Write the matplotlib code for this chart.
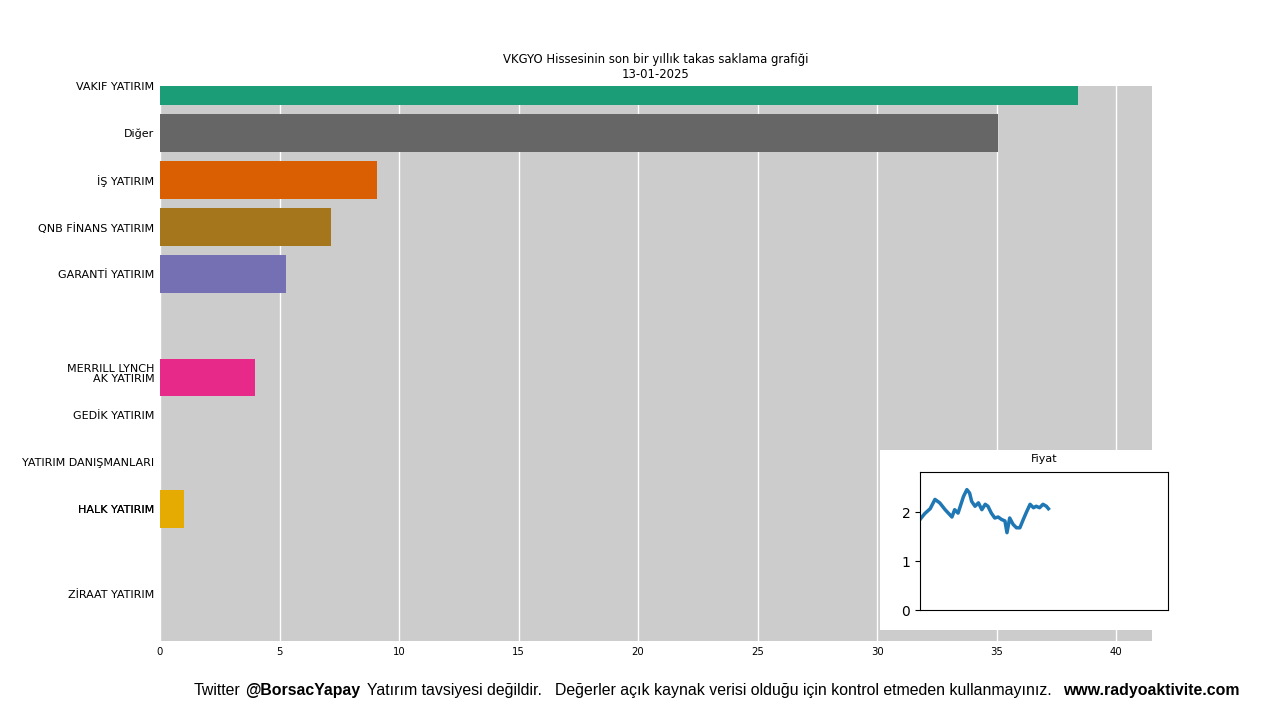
import matplotlib.pyplot as plt
from matplotlib.patches import Rectangle

# ------------------------------
# Veriler (13-01-2025 karesi)
# ------------------------------
kurumlar = ["VAKIF YATIRIM", "Diğer", "İŞ YATIRIM", "QNB FİNANS YATIRIM",
            "GARANTİ YATIRIM", "MERRILL LYNCH", "AK YATIRIM", "GEDİK YATIRIM",
            "YATIRIM DANIŞMANLARI", "HALK YATIRIM", "HALK YATIRIM", "ZİRAAT YATIRIM"]
oranlar = [38.4, 35.05, 9.08, 7.15, 5.27, 0.0, 3.97, 0.0, 0.0, 1.0, 0.0, 0.0]
siralar = [0.0, 1.0, 2.0, 3.0, 4.0, 6.0, 6.2, 7.0, 8.0, 9.0, 9.0, 10.8]
renkler = ["#1b9e77", "#666666", "#d95f02", "#a6761d", "#7570b3", "#66a61e",
           "#e7298a", "#1b9e77", "#d95f02", "#e6ab02", "#e6ab02", "#7570b3"]

# fiyat serisi (gün, fiyat)
gunler = [0, 7, 15, 22, 29, 37, 47, 51, 56, 64, 69, 73, 76, 81, 86, 91, 96, 100,
          105, 110, 115, 120, 125, 128, 132, 137, 142, 147, 152, 157, 162, 167,
          171, 176, 181, 186, 189]
fiyatlar = [1.85, 1.97, 2.07, 2.26, 2.19, 2.05, 1.90, 2.05, 1.98, 2.32, 2.46, 2.39,
            2.22, 2.12, 2.19, 2.05, 2.16, 2.12, 1.98, 1.88, 1.90, 1.85, 1.82, 1.58,
            1.88, 1.75, 1.68, 1.68, 1.85, 2.01, 2.16, 2.09, 2.12, 2.09, 2.16, 2.12,
            2.07]

baslik = "VKGYO Hissesinin son bir yıllık takas saklama grafiği\n13-01-2025"

# ------------------------------
# Ana grafik
# ------------------------------
fig = plt.figure(figsize=(12.8, 7.2), dpi=100)
ax = fig.add_axes([0.125, 0.1097, 0.775, 0.7709])
ax.set_facecolor("#cccccc")
ax.barh(siralar, oranlar, height=0.8, color=renkler, zorder=3)
ax.set_ylim(11.8, 0)
ax.set_xlim(0, 41.5)
ax.set_xticks(range(0, 45, 5))
ax.set_yticks(siralar)
ax.set_yticklabels(kurumlar)
ax.tick_params(axis="y", length=0, pad=4, labelsize=8)
ax.tick_params(axis="x", length=0, pad=4, labelsize=7.3)
ax.grid(axis="x", color="white", linewidth=1, zorder=1)
ax.set_axisbelow(True)
for s in ax.spines.values():
    s.set_visible(False)
ax.set_title(baslik, fontsize=8.4, pad=6)

# ------------------------------
# Fiyat grafiği (küçük)
# ------------------------------
kutu = Rectangle((880 / 1280, 1 - 630 / 720), 290 / 1280, 180 / 720,
                 transform=fig.transFigure, facecolor="white", edgecolor="none",
                 zorder=5)
fig.patches.append(kutu)

ax2 = fig.add_axes([920 / 1280, 1 - 610 / 720, 248 / 1280, 138 / 720], zorder=6)
ax2.plot(gunler, fiyatlar, color="#1f77b4", linewidth=2.5)
ax2.set_xlim(0, 365)
ax2.set_ylim(0, 2.82)
ax2.set_yticks([0, 1, 2])
ax2.set_xticks([])
ax2.tick_params(axis="y", labelsize=10)
ax2.set_title("Fiyat", fontsize=8, pad=7)

# ------------------------------
# Alt yazı
# ------------------------------
yazi = dict(fontsize=11.4, family="Liberation Sans", va="baseline")
y0 = 1 - 695 / 720
fig.text(194 / 1280, y0, "Twitter", **yazi)
fig.text(245 / 1280, y0, "@BorsacYapay", fontweight="bold", **yazi)
fig.text(367 / 1280, y0, "Yatırım tavsiyesi değildir.", **yazi)
fig.text(555 / 1280, y0,
         "Değerler açık kaynak verisi olduğu için kontrol etmeden kullanmayınız.", **yazi)
fig.text(1063 / 1280, y0, "www.radyoaktivite.com", fontweight="bold", **yazi)

fig.savefig("out.png", dpi=100)
